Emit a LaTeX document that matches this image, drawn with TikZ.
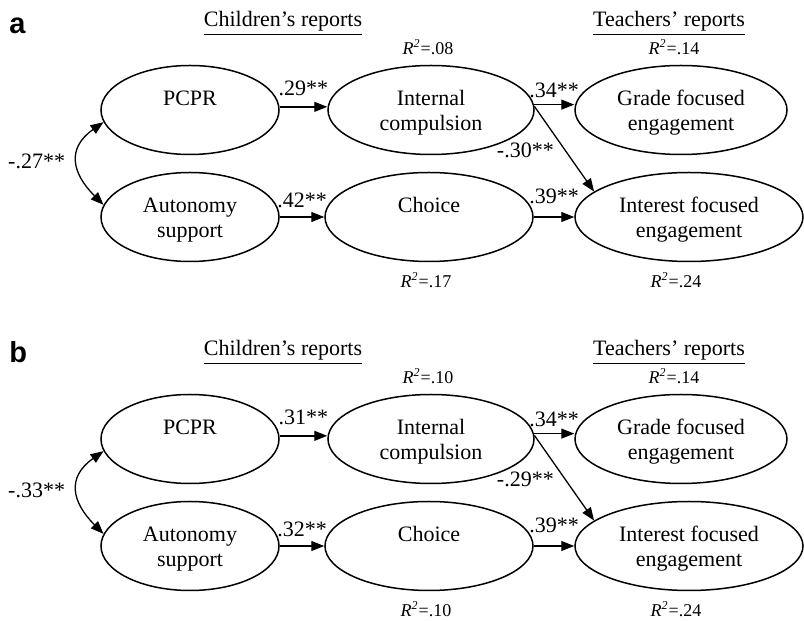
\documentclass[tikz,border=0pt]{standalone}
\usepackage{fontspec}
\setmainfont{Liberation Serif}
\newfontfamily\panelfont{Liberation Sans}
\usetikzlibrary{shapes.geometric,arrows.meta}

% two centred lines whose baseline is the first line
\newcommand\twoline[2]{\begin{tabular}[t]{@{}c@{}}#1\\#2\end{tabular}}
% explained variance label
\newcommand\rsq[1]{\textit{R}\textsuperscript{\textit{2}}=#1}

\tikzset{
  latent/.style={ellipse, draw, line width=0.75pt, inner sep=0pt,
    minimum height=44.5pt, text height=8pt, text depth=12.5pt,
    font=\fontsize{11}{12.5}\selectfont},
  link/.style={line width=0.65pt, -{Triangle[length=6.5pt,width=5pt]}},
  cov/.style={line width=0.65pt,
    {Triangle[length=6.5pt,width=5pt]}-{Triangle[length=6.5pt,width=5pt]}},
  coef/.style={font=\fontsize{11}{12.5}\selectfont, inner sep=0pt},
  rlab/.style={font=\fontsize{9}{10}\selectfont, anchor=base, inner sep=0pt},
  head/.style={font=\fontsize{11}{12.5}\selectfont, anchor=base, inner sep=0pt},
  tag/.style={font=\panelfont\bfseries\fontsize{14.5}{16}\selectfont,
    anchor=base west, inner sep=0pt}
}

% one path model
% #1 panel letter, #2 vertical shift, #3 R2 compulsion, #4 R2 choice,
% #5 PCPR->compulsion, #6 autonomy->choice, #7 covariance, #8 compulsion->interest
\newcommand\modelpanel[8]{%
  \begin{scope}[yshift=#2]
    \node[tag] (#1-tag) at (9,587) {#1};
    \node[head] (#1-child) at (283,594) {\underline{Children’s reports}};
    \node[head] (#1-teach) at (669,594) {\underline{Teachers’ reports}};
    \node[rlab] (#1-r2ic) at (428,566) {\rsq{#3}};
    \node[rlab] (#1-r2gf) at (674,566) {\rsq{.14}};

    \node[latent, minimum width=89pt]  (#1-pcpr) at (190,511) {PCPR};
    \node[latent, minimum width=103pt] (#1-ic)   at (431,511) {\twoline{Internal}{compulsion}};
    \node[latent, minimum width=106pt] (#1-gf)   at (681,511) {\twoline{Grade focused}{engagement}};
    \node[latent, minimum width=89pt]  (#1-as)   at (190,404) {\twoline{Autonomy}{support}};
    \node[latent, minimum width=104pt] (#1-ch)   at (429,404) {Choice};
    \node[latent, minimum width=114pt] (#1-if)   at (689,404) {\twoline{Interest focused}{engagement}};

    \node[rlab] (#1-r2ch) at (426,333) {\rsq{#4}};
    \node[rlab] (#1-r2if) at (676,333) {\rsq{.24}};

    \coordinate (#1-s1) at (#1-pcpr.2.5);
    \coordinate (#1-s3) at (#1-ic.3.5);
    \draw[link] (#1-s1) -- node[coef, above=5pt] (#1-k1) {#5} (#1-s1 -| #1-ic.west);
    \draw[link] (#1-as.east) -- node[coef, above=4.5pt] (#1-k2) {#6} (#1-ch.west);
    \draw[link] (#1-s3) -- node[coef, above=3pt] (#1-k3) {.34**} (#1-s3 -| #1-gf.west);
    \draw[link] (#1-ic.2) -- node[coef, pos=0.52, left=5.5pt] (#1-k4) {#8} (#1-if.165);
    \draw[link] (#1-ch.east) -- node[coef, above=6.5pt] (#1-k5) {.39**} (#1-if.west);
    \draw[cov] (#1-pcpr.188) to[out=215, in=135, looseness=1.4]
      node[coef, left=6pt] (#1-k6) {#7} (#1-as.172);
  \end{scope}}

\begin{document}
\begin{tikzpicture}[x=0.5pt, y=0.5pt]
  \useasboundingbox (0,0) rectangle (804,621);
  \modelpanel{a}{0pt}{.08}{.17}{.29**}{.42**}{-.27**}{-.30**}
  \modelpanel{b}{-164.5pt}{.10}{.10}{.31**}{.32**}{-.33**}{-.29**}
\end{tikzpicture}
\end{document}
